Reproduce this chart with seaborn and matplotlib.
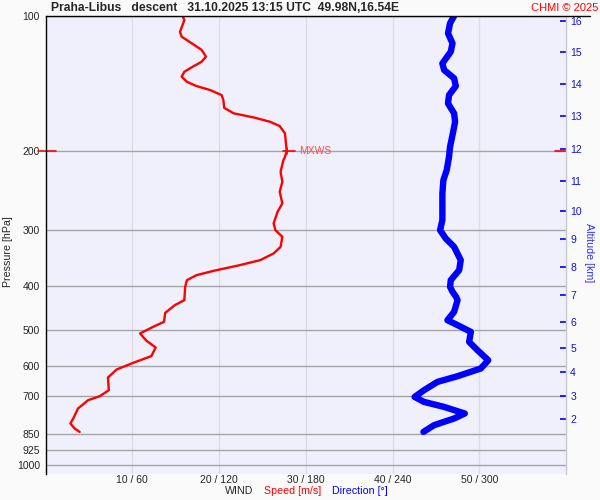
import numpy as np
import matplotlib
matplotlib.use("Agg")
import matplotlib.pyplot as plt
from matplotlib.lines import Line2D
from matplotlib.ticker import NullLocator
import seaborn as sns

# wind speed profile (descent), pressure in hPa, speed in m/s
speed_p = [100, 102.1, 104.7, 108.4, 111.2, 115.0, 119.0, 123.2, 126.4, 130.1,
           133.1, 136.5, 140.1, 143.2, 146.2, 150.0, 153.8, 160.1, 164.7, 168.2,
           172.0, 175.8, 182.5, 190.5, 200.0, 206.0, 210.0, 222.2, 233.9, 246.2,
           261.3, 272.9, 289.5, 299.7, 310.1, 326.5, 337.7, 349.5, 358.6, 369.3,
           377.5, 387.3, 400.8, 429.1, 440.3, 458.0, 479.6, 492.0, 508.9, 528.6,
           546.8, 571.7, 591.7, 612.2, 637.8, 680.7, 702.0, 716.6, 747.7, 787.0,
           807.4, 828.4, 843.0]
speed = [15.8, 16.0, 15.8, 15.5, 15.7, 16.85, 18.0, 18.5, 18.0, 16.85,
         16.0, 15.7, 16.3, 17.4, 19.0, 20.3, 20.5, 20.6, 21.7, 24.0,
         25.9, 27.0, 27.6, 27.7, 27.8, 27.6, 27.4, 27.1, 27.3, 27.0,
         27.3, 26.75, 26.3, 26.5, 27.3, 27.1, 26.3, 24.75, 22.4, 19.35,
         17.4, 16.3, 16.1, 16.0, 14.9, 13.8, 13.65, 12.4, 10.9, 11.65,
         12.7, 12.2, 10.1, 8.2, 7.2, 7.3, 6.25, 4.9, 3.75, 3.2,
         2.87, 3.36, 3.94]

# wind direction profile, degrees
dir_p = [100, 103.8, 109.3, 115.0, 120.1, 127.5, 131.9, 137.6, 143.2, 150.0,
         156.5, 164.7, 172.0, 184.1, 195.5, 205.8, 220.3, 231.9, 248.3, 265.9,
         284.7, 299.7, 312.7, 326.5, 349.5, 367.9, 387.3, 400.8, 411.0, 421.9,
         429.1, 455.6, 475.5, 487.7, 504.8, 531.4, 554.6, 583.8, 609.0, 633.6,
         652.4, 680.7, 704.6, 722.8, 741.6, 767.2, 787.0, 814.5, 843.0]
direction = [282.6, 279.8, 278.4, 281.5, 280.3, 274.5, 275.7, 282.6, 283.8, 279.1,
             278.4, 282.6, 283.3, 281.5, 279.8, 279.1, 277.5, 275.2, 274.5, 274.5,
             274.5, 272.9, 276.8, 282.6, 287.2, 286.1, 280.3, 279.8, 281.5, 284.0,
             285.0, 282.6, 278.0, 285.0, 294.2, 293.0, 298.8, 306.2, 301.1, 285.0,
             271.1, 261.8, 255.3, 261.8, 275.7, 290.0, 282.6, 268.7, 261.4]

p_ticks = [100, 200, 300, 400, 500, 600, 700, 850, 925, 1000]
speed_ticks = [10, 20, 30, 40, 50]

# altitude scale on the right (km -> pressure)
alt_km = [16, 15, 14, 13, 12, 11, 10, 9, 8, 7, 6, 5, 4, 3, 2]
alt_p = [102.4, 120.5, 142.0, 167.3, 197.8, 233.1, 271.5, 313.8, 362.2,
         417.6, 479.7, 548.0, 619.8, 701.0, 789.6]

sns.set_style("white")
plt.rcParams['font.family'] = ['Liberation Sans', 'DejaVu Sans']

W, H = 600, 500
fig = plt.figure(figsize=(6, 5), dpi=100, facecolor='#fafafa')
ax = fig.add_axes([45.5 / W, 26 / H, 520.5 / W, 458 / H])
ax.set_facecolor('#f0f0fc')

sns.lineplot(x=np.array(direction) / 6.0, y=dir_p, sort=False, estimator=None,
             color='#0000ff', lw=4.6, solid_capstyle='round', solid_joinstyle='round',
             ax=ax, zorder=3)
sns.lineplot(x=speed, y=speed_p, sort=False, estimator=None,
             color='#ff0000', lw=1.7, solid_joinstyle='round', ax=ax, zorder=4)

ax.set_yscale('log')
ax.set_ylim(1046, 100)
ax.set_xlim(0, 60)
ax.set_yticks(p_ticks)
ax.set_yticklabels([str(p) for p in p_ticks])
ax.yaxis.set_minor_locator(NullLocator())
ax.set_xticks(speed_ticks)
ax.set_xticklabels([f"{s} / {s * 6}" for s in speed_ticks])
ax.tick_params(axis='y', length=0, pad=4, labelsize=7.5)
ax.tick_params(axis='x', length=0, pad=1, labelsize=7.5)
ax.set_xlabel("")
ax.set_ylabel("")
ax.set_axisbelow(True)
ax.grid(axis='y', color='#a4a4a8', lw=1)
ax.grid(axis='x', color='#dcdce4', lw=1)
for s in ['top', 'right', 'bottom']:
    ax.spines[s].set_visible(False)
ax.spines['left'].set_color('black')
ax.spines['left'].set_linewidth(1)

# right altitude axis
ax2 = ax.twinx()
ax2.set_yscale('log')
ax2.set_ylim(1046, 100)
ax2.set_yticks(alt_p)
ax2.set_yticklabels([str(a) for a in alt_km])
ax2.yaxis.set_minor_locator(NullLocator())
ax2.tick_params(axis='y', direction='in', length=4.3, width=1.2, color='#0000ff',
                labelcolor='#1010e0', labelsize=7.5, pad=3)
for s in ['top', 'left', 'bottom']:
    ax2.spines[s].set_visible(False)
ax2.spines['right'].set_color('#c8c8d0')
ax2.spines['right'].set_linewidth(1)

# top line runs past the plot area
fig.add_artist(Line2D([45.5 / W, 590 / W], [1 - 16 / H] * 2, color='black', lw=1))

# max wind marker
i = int(np.argmax(speed))
mx_s, mx_p = speed[i], speed_p[i]
ax.plot([mx_s - 0.4, mx_s + 1.0], [mx_p, mx_p], color='#ff0000', lw=1.2, zorder=5)
ax.plot([mx_s, mx_s], [mx_p / 1.0155, mx_p * 1.0155], color='#ff0000', lw=1.2, zorder=5)
ax.text(mx_s + 1.4, mx_p, "MXWS", color='#ff5050', fontsize=7.5, va='center', ha='left')
ax.plot([-8 / 520.5, 10 / 520.5], [mx_p, mx_p], transform=ax.get_yaxis_transform(),
        clip_on=False, color='#ff0000', lw=1.2)
ax.plot([(555 - 45.5) / 520.5, 1.0], [mx_p, mx_p], transform=ax.get_yaxis_transform(),
        clip_on=False, color='#ff0000', lw=1.2)

# texts
fig.text(51 / W, 1 - 8 / H, "Praha-Libus   descent   31.10.2025 13:15 UTC  49.98N,16.54E",
         fontsize=8.7, fontweight='bold', va='center', ha='left')
fig.text(598 / W, 1 - 8 / H, "CHMI © 2025", color='#ff0000', fontsize=8,
         va='center', ha='right')
fig.text(239 / W, 1 - 491 / H, "WIND", fontsize=7.7, ha='center', va='center')
fig.text(292.5 / W, 1 - 491 / H, "Speed [m/s]", color='#ff0000', fontsize=7.7,
         ha='center', va='center')
fig.text(360 / W, 1 - 491 / H, "Direction [°]", color='#0000ff', fontsize=7.7,
         ha='center', va='center')
fig.text(8 / W, 1 - 252 / H, "Pressure [hPa]", rotation=90, fontsize=7.7,
         ha='center', va='center')
fig.text(589 / W, 1 - 253 / H, "Altitude [km]", rotation=270, color='#3030ff',
         fontsize=7.7, ha='center', va='center')

fig.savefig("out.png", dpi=100, facecolor=fig.get_facecolor())
